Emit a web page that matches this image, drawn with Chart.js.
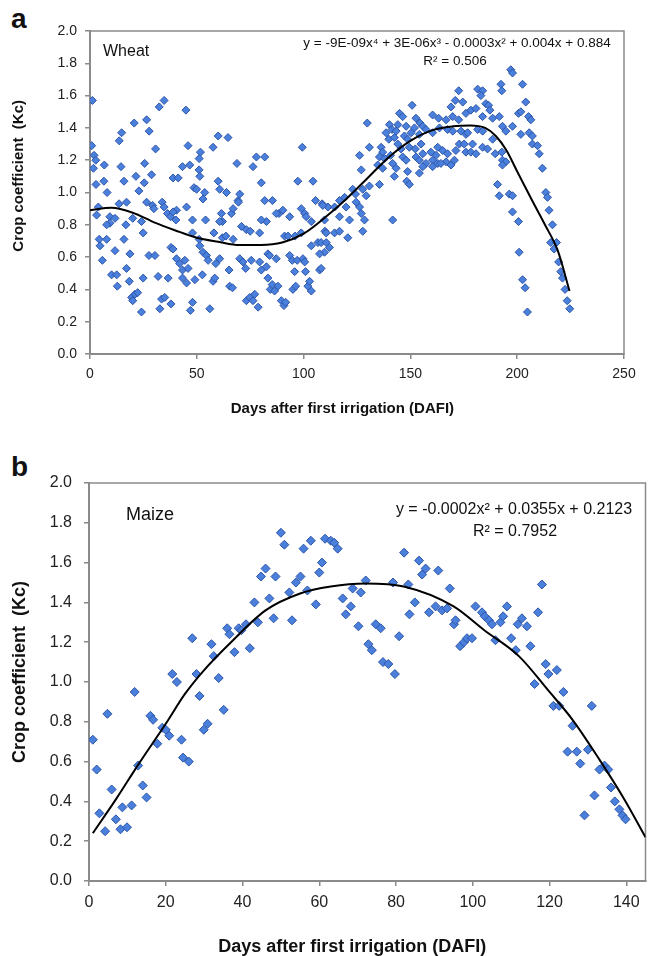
<!DOCTYPE html>
<html>
<head>
<meta charset="utf-8">
<title>Crop coefficient</title>
<script src="https://cdn.jsdelivr.net/npm/chart.js@4.4.1/dist/chart.umd.min.js"></script>
<style>
  body { margin: 0; background: #fff; }
  #wrap { position: relative; width: 651px; height: 956px; }
  canvas { position: absolute; left: 0; }
  #chartA { top: 0; }
  #chartB { top: 445px; }
  .panel { position: absolute; left: 11px; font: bold 28px "Liberation Sans", Arial, sans-serif; color: #111; }
</style>
</head>
<body>
<div id="wrap">
  <div class="panel" style="top:3px">a</div>
  <canvas id="chartA" width="651" height="430"></canvas>
  <div class="panel" style="top:451px">b</div>
  <canvas id="chartB" width="651" height="511"></canvas>
</div>
<script>
"use strict";

// Wheat: [day, Kc]
const wheatObs = [
  [1.1,1.57],[0.8,1.29],[1.9,1.23],[2.7,1.20],[1.6,1.15],[6.7,1.17],[2.8,1.05],[6.5,1.07],[8,1.00],[3.9,0.91],
  [3.1,0.86],[9.3,0.85],[11.7,0.84],[9.3,0.81],[13.6,0.93],[13.7,1.32],[14.8,1.37],[14.5,1.16],[15.9,1.07],[17.1,0.94],
  [16.8,0.80],[20.7,1.43],[21.5,1.10],[22.9,1.01],[20,0.84],[24.1,0.82],[25.6,1.18],[26.5,1.45],[27.7,1.38],[25.4,1.06],
  [26.5,0.94],[28.8,1.11],[29.3,0.92],[30.7,1.27],[29.9,0.90],[32.4,1.53],[34.7,1.57],[33.8,0.94],[34.7,0.91],[36.3,0.87],
  [38.9,1.09],[41.3,1.09],[43.3,1.16],[40.5,0.89],[37.7,0.85],[40.2,0.83],[44.9,1.51],[45.9,1.29],[46.7,1.17],[48,0.83],
  [48.7,1.03],[49.9,1.02],[51.1,1.14],[51.4,1.10],[51.7,1.25],[51.1,1.21],[52.9,0.96],[53.7,1.00],[54.1,0.83],[57.6,1.28],
  [60,1.35],[60,1.07],[60.7,1.02],[61.5,0.87],[62,0.82],[63.9,1.00],[64.6,1.34],[66.2,0.87],[67,0.90],[68.8,1.18],
  [69.3,0.95],[70.1,0.99],[69.5,0.94],[70.9,0.79],[73.2,0.77],[76.3,1.16],[77.9,1.22],[81.8,1.22],[80.2,1.06],[81.8,0.95],
  [85.4,0.95],[82.6,0.82],[88.5,0.87],[90.3,0.89],[93.5,0.85],[97.3,1.07],[99.4,1.28],[98.9,0.90],[100.5,0.87],[101.2,0.85],
  [103.6,0.82],[104.4,1.07],[105.6,0.95],[108.7,0.93],
  [7.8,0.80],[38.9,0.88],[45.2,0.91],[60.7,0.82],[80.2,0.83],[87.2,0.87],[109.8,0.83],[111.4,0.91],[58,0.75],[75,0.76],
  [96,0.73],[110,0.76],
  [4.3,0.71],[4.7,0.67],[7.8,0.71],[5.8,0.58],[11.7,0.64],[10.1,0.49],[12.5,0.49],[12.8,0.42],[15.9,0.71],[17.1,0.53],
  [18.7,0.62],[18.4,0.45],[19.5,0.35],[21,0.37],[22.3,0.38],[20,0.33],[24.1,0.26],[24.9,0.75],[24.9,0.47],[27.6,0.61],
  [30.4,0.61],[31.9,0.48],[32.7,0.28],[33.5,0.34],[35,0.35],[36.6,0.47],[37.9,0.31],[37.9,0.66],[38.9,0.65],[40.5,0.59],
  [42,0.56],[43.3,0.52],[43.3,0.47],[44.4,0.58],[45.2,0.44],[45.9,0.53],[47,0.27],[48,0.32],[49.1,0.46],[48,0.75],
  [51.1,0.71],[51.4,0.67],[52.6,0.49],[52.9,0.63],[54.5,0.61],[55.3,0.58],[56.1,0.28],[57.6,0.45],[58.4,0.47],[58.9,0.56],
  [60.7,0.59],[62,0.72],[63.6,0.73],[65.1,0.52],[65.4,0.42],[66.7,0.41],[67,0.71],[70.1,0.59],[71.6,0.57],[72.9,0.53],
  [73.2,0.33],[74.8,0.35],[75.5,0.58],[76.3,0.33],[77.1,0.37],[78.7,0.29],[79.4,0.75],[79.4,0.57],[80.2,0.52],[82.6,0.54],
  [83.3,0.62],[84.1,0.61],[83.3,0.47],[84.4,0.40],[85.3,0.43],[86.4,0.39],[87.2,0.59],[88,0.42],[89.6,0.33],[90.8,0.30],
  [91.6,0.32],[91.1,0.73],[92.7,0.73],[93.5,0.61],[94.7,0.58],[95,0.40],[95.8,0.51],[96.3,0.42],[97,0.58],[98.9,0.75],
  [99.7,0.59],[100.5,0.57],[100.9,0.51],[102,0.42],[102.8,0.45],[103.6,0.39],[103.6,0.67],[107.5,0.52],[106.7,0.69],[108.2,0.69],
  [109.8,0.63],[110.6,0.75],[107.5,0.62],[112.1,0.66],[114.5,0.75],[116.8,0.76],
  [197,1.76],[197.8,1.74],[192.4,1.67],[192.8,1.63],[202.5,1.67],[172.6,1.63],[181.5,1.64],[183.8,1.63],[183,1.60],[171,1.57],
  [174.5,1.56],[169,1.53],[150.8,1.54],[185.3,1.55],[186.6,1.54],[187.2,1.51],[204,1.56],[144.9,1.49],[146.4,1.47],[152.6,1.46],
  [154.5,1.43],[155.8,1.41],[160.4,1.48],[163.2,1.46],[166.7,1.45],[169.8,1.47],[172.6,1.45],[176,1.49],[178.3,1.51],[180.7,1.52],
  [183.8,1.47],[188.5,1.46],[191.6,1.47],[200.6,1.49],[201.7,1.50],[205.3,1.47],[206.4,1.45],[129.8,1.43],[140.2,1.42],[141.4,1.39],
  [144.1,1.42],[143.3,1.38],[148,1.41],[150.3,1.37],[151.9,1.40],[157.3,1.39],[160.4,1.37],[163.6,1.40],[167.4,1.39],[169.8,1.38],
  [173.7,1.38],[176,1.36],[176.8,1.37],[181.5,1.39],[183.8,1.38],[193.1,1.41],[194.7,1.38],[197.8,1.41],[201.7,1.36],[205.6,1.37],
  [207.1,1.35],[138.6,1.37],[139.9,1.33],[142.5,1.34],[147.2,1.35],[148.7,1.33],[154.2,1.36],[130.8,1.28],[136.3,1.28],[137,1.25],
  [144.1,1.30],[145.6,1.27],[149.5,1.28],[152.3,1.27],[155,1.30],[155.8,1.24],[159.6,1.25],[162,1.23],[162.8,1.28],[165.1,1.26],
  [167.4,1.24],[171.3,1.26],[172.9,1.30],[175.2,1.30],[176,1.25],[178.3,1.25],[179.1,1.30],[180.7,1.24],[183.8,1.28],[186.1,1.27],
  [188.5,1.33],[189.7,1.24],[192.8,1.25],[193.1,1.20],[194.7,1.19],[207.1,1.30],[209.5,1.29],[210.3,1.24],[126.2,1.23],[135.5,1.22],
  [137.9,1.21],[140.7,1.23],[141.7,1.18],[146.4,1.22],[148,1.20],[152.6,1.22],[154.2,1.20],[157.3,1.18],[160.4,1.20],[162.8,1.18],
  [166.7,1.19],[169,1.17],[170.6,1.20],[127,1.14],[134.7,1.17],[137,1.15],[143.3,1.15],[148.7,1.13],[154.2,1.12],[155.8,1.16],
  [160.4,1.16],[164.3,1.18],[193.1,1.17],[211.8,1.15],[142.5,1.10],[190.8,1.05],[191.6,0.98],[196.3,0.99],[197.8,0.98],[148.3,1.07],
  [149.5,1.05],[130.8,1.04],[135.5,1.05],[127.7,1.02],[129.3,0.98],[123,1.02],[124.3,0.99],[119.2,0.97],[116.8,0.95],[114.5,0.91],
  [109,0.92],[119.9,0.91],[124.6,0.94],[126.2,0.91],[127,0.87],[128.5,0.83],[121.5,0.83],[116.8,0.85],[141.7,0.83],[197.8,0.88],
  [200.6,0.82],[213.4,1.00],[214.2,0.97],[214.9,0.89],
  [216.5,0.80],[127.7,0.76],[120.7,0.72],[110.6,0.69],[108.2,0.53],[200.9,0.63],[202.5,0.46],[203.7,0.41],[204.8,0.26],[215.7,0.69],
  [217.3,0.65],[218.4,0.69],[219.4,0.57],[220.4,0.51],[221.2,0.47],[222.4,0.40],[223.4,0.33],[224.6,0.28]
];

// Wheat trend line: [day, Kc]
const wheatFit = [
  [0,0.89],[10,0.905],[20,0.875],[30,0.815],[40,0.765],[50,0.72],[60,0.695],[70,0.675],[80,0.675],[90,0.69],
  [100,0.745],[110,0.845],[120,0.96],[130,1.09],[140,1.22],[150,1.32],[160,1.385],[170,1.41],[178,1.415],[185,1.40],
  [190,1.35],[195,1.26],[200,1.13],[207,0.95],[213,0.80],[219,0.64],[224.5,0.39]
];

// Maize: [day, Kc]
const maizeObs = [
  [1,0.71],[2,0.56],[2.7,0.34],[4.2,0.25],[4.8,0.84],[5.9,0.46],[7,0.31],[8.2,0.26],[8.7,0.37],[9.9,0.27],
  [11.1,0.38],[11.9,0.95],[12.8,0.58],[14,0.48],[15,0.42],[16,0.83],[16.7,0.81],[17.8,0.69],[19.1,0.77],[20,0.76],
  [20.9,0.73],[21.7,1.04],[22.9,1.00],[24.1,0.71],[24.5,0.62],[26,0.60],[26.9,1.22],[28,1.04],[28.8,0.93],[29.9,0.76],
  [30.9,0.79],[31.9,1.19],[32.5,1.13],[33.8,1.02],[35.1,0.86],[36,1.27],[36.6,1.24],[37.9,1.15],[39,1.27],[39.7,1.26],
  [40.9,1.29],[41.9,1.17],[43.1,1.40],[44,1.30],[44.8,1.53],[46,1.57],[47,1.42],[48.1,1.32],[48.6,1.53],[50,1.75],
  [50.9,1.69],[52.2,1.45],[52.9,1.31],[53.9,1.50],[55.1,1.53],[55.9,1.67],[56.9,1.46],[57.8,1.71],[59.1,1.39],[60,1.55],
  [60.7,1.60],[61.5,1.72],[63,1.71],[63.9,1.70],[64.8,1.67],[66.1,1.42],[66.9,1.34],[68.2,1.38],[68.7,1.47],[70.2,1.28],
  [70.8,1.45],[72.1,1.51],[72.8,1.19],[73.7,1.16],[74.7,1.29],[76,1.27],[76.6,1.10],[78,1.09],[79.2,1.50],[79.7,1.04],
  [80.8,1.23],[82.1,1.65],[83.2,1.49],[83.5,1.34],[84.9,1.40],[86,1.61],[86.8,1.54],[87.7,1.57],[88.6,1.35],[90.3,1.38],
  [91,1.56],[92,1.36],[93.3,1.37],[94,1.47],[95.1,1.29],[95.5,1.31],[96.7,1.18],[97.7,1.20],[98.5,1.22],[99.8,1.22],
  [100.7,1.38],[102.4,1.35],[103.1,1.33],[104.2,1.31],[105,1.29],[105.9,1.21],[107.2,1.30],[107.9,1.33],[108.9,1.38],[110,1.22],
  [111.2,1.16],[111.7,1.29],[112.8,1.32],[114.1,1.28],[115,1.18],[116.1,0.99],[117,1.35],[118,1.49],[119,1.09],[119.7,1.04],
  [121,0.88],[121.9,1.06],[122.5,0.88],[123.6,0.95],[124.7,0.65],[126,0.78],[127.1,0.65],[128,0.59],[129.1,0.33],[130,0.66],
  [131,0.88],[131.7,0.43],[133,0.56],[134.3,0.58],[135.3,0.56],[136,0.47],[137,0.40],[138.2,0.36],[139,0.33],[139.8,0.31]
];

// Maize trend line: [day, Kc]
const maizeFit = [
  [1,0.24],[7,0.41],[13,0.59],[20,0.79],[25,0.94],[30,1.06],[37,1.20],[46,1.36],[55,1.445],[63,1.48],
  [72,1.495],[82,1.48],[95,1.38],[103,1.26],[112,1.13],[120,0.95],[126,0.81],[133,0.61],[139.5,0.41],[145,0.22]
];

// axis tick positions
const wheatDayTicks = [0, 50, 100, 150, 200, 250];
const maizeDayTicks = [0, 20, 40, 60, 80, 100, 120, 140];

const yTitle = "Crop coefficient  (Kc)";
const xTitle = "Days after first irrigation (DAFI)";

Chart.defaults.font.family = "'Liberation Sans', Arial, sans-serif";
Chart.defaults.color = "#222";

const toXY = (arr) => arr.map(([x, y]) => ({ x, y }));

// draws the in-plot notes (crop name, equation, R2) relative to the plot area
const notesPlugin = {
    id: "notes",
    afterDraw(chart, args, opts) {
        const { ctx, chartArea } = chart;
        ctx.save();
        ctx.fillStyle = "#111";
        ctx.textBaseline = "middle";
        opts.items.forEach((it) => {
            ctx.font = it.font;
            ctx.textAlign = it.align;
            ctx.fillText(it.text, chartArea.left + it.dx, chartArea.top + it.dy);
        });
        ctx.restore();
    },
};

// grey frame around the plot area
const framePlugin = {
    id: "frame",
    beforeDatasetsDraw(chart) {
        const { ctx, chartArea: a } = chart;
        ctx.save();
        ctx.strokeStyle = "#8a8a8a";
        ctx.lineWidth = 1.5;
        ctx.strokeRect(a.left, a.top, a.right - a.left, a.bottom - a.top);
        ctx.restore();
    },
};

function makePanel(canvas, cfg) {
    return new Chart(canvas, {
        type: "scatter",
        data: {
            datasets: [
                {
                    type: "line",
                    data: toXY(cfg.fit),
                    borderColor: "#000",
                    borderWidth: 2,
                    pointRadius: 0,
                    cubicInterpolationMode: "monotone",
                    fill: false,
                },
                {
                    data: toXY(cfg.obs),
                    pointStyle: "rectRot",
                    pointRadius: cfg.radius,
                    backgroundColor: "#4a7fdc",
                    borderColor: "#2d55a8",
                    borderWidth: 1,
                },
            ],
        },
        options: {
            responsive: false,
            animation: false,
            layout: { padding: cfg.padding },
            plugins: {
                legend: { display: false },
                tooltip: { enabled: false },
                notes: { items: cfg.notes },
            },
            scales: {
                x: {
                    type: "linear",
                    min: 0,
                    max: cfg.xMax,
                    ticks: { padding: cfg.xPad, font: { size: cfg.tickSize }, autoSkip: false },
                    afterBuildTicks: (s) => { s.ticks = cfg.xTicks.map((v) => ({ value: v })); },
                    grid: { drawOnChartArea: false, drawTicks: true, tickLength: 5, color: "#8a8a8a", lineWidth: 1.5 },
                    border: { display: true, color: "#8a8a8a", width: 2 },
                    title: {
                        display: true,
                        // trailing blanks pull the centred title a little left, as in the figure
                        text: xTitle + " ".repeat(cfg.xShift),
                        font: { size: cfg.titleSize, weight: "bold", lineHeight: 1 },
                        padding: { top: 0, bottom: cfg.xTitlePad },
                        color: "#111",
                    },
                    afterFit: (s) => { s.height = cfg.xHeight; },
                },
                y: {
                    min: 0,
                    max: 2,
                    ticks: { stepSize: 0.2, padding: cfg.yPad, font: { size: cfg.tickSize }, callback: (v) => v.toFixed(1) },
                    grid: { drawOnChartArea: false, drawTicks: true, tickLength: 5, color: "#8a8a8a", lineWidth: 1.5 },
                    border: { display: true, color: "#8a8a8a", width: 2 },
                    title: {
                        display: true,
                        // leading blanks lift the centred title a little, as in the figure
                        text: " ".repeat(cfg.yShift) + yTitle,
                        font: { size: cfg.titleSize, weight: "bold", lineHeight: 1 },
                        padding: { top: cfg.yTitlePad, bottom: 0 },
                        color: "#111",
                    },
                    afterFit: (s) => { s.width = cfg.yWidth; },
                },
            },
        },
        plugins: [framePlugin, notesPlugin],
    });
}

makePanel(document.getElementById("chartA"), {
    obs: wheatObs,
    fit: wheatFit,
    radius: 4,
    xMax: 250,
    xTicks: wheatDayTicks,
    tickSize: 14,
    titleSize: 15,
    xShift: 7,
    yShift: 8,
    padding: { top: 31, right: 27, bottom: 0, left: 0 },
    xHeight: 76,
    yWidth: 90,
    xPad: 7,
    yPad: 8,
    xTitlePad: 14,
    yTitlePad: 11,
    notes: [
        { text: "Wheat", dx: 13, dy: 21, align: "left", font: "16px 'Liberation Sans', Arial, sans-serif" },
        { text: "y = -9E-09x\u2074 + 3E-06x\u00b3 - 0.0003x\u00b2 + 0.004x + 0.884", dx: 367, dy: 12, align: "center", font: "13.5px 'Liberation Sans', Arial, sans-serif" },
        { text: "R\u00b2 = 0.506", dx: 365, dy: 30, align: "center", font: "13.5px 'Liberation Sans', Arial, sans-serif" },
    ],
});

makePanel(document.getElementById("chartB"), {
    obs: maizeObs,
    fit: maizeFit,
    radius: 4.5,
    xMax: 145,
    xTicks: maizeDayTicks,
    tickSize: 16,
    titleSize: 18,
    xShift: 6,
    yShift: 4,
    padding: { top: 38, right: 4, bottom: 0, left: 0 },
    xHeight: 75,
    yWidth: 89,
    xPad: 7,
    yPad: 12,
    xTitlePad: 0,
    yTitlePad: 11,
    notes: [
        { text: "Maize", dx: 37, dy: 32, align: "left", font: "18px 'Liberation Sans', Arial, sans-serif" },
        { text: "y = -0.0002x\u00b2 + 0.0355x + 0.2123", dx: 425, dy: 27, align: "center", font: "16px 'Liberation Sans', Arial, sans-serif" },
        { text: "R\u00b2 = 0.7952", dx: 426, dy: 49, align: "center", font: "16px 'Liberation Sans', Arial, sans-serif" },
    ],
});
</script>
</body>
</html>
